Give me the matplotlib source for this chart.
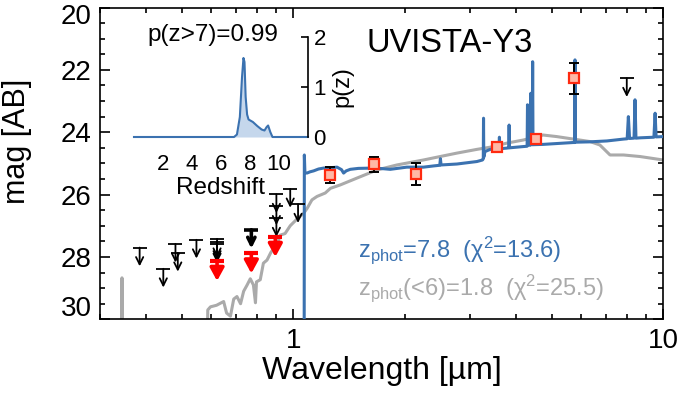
import matplotlib
matplotlib.use("Agg")
import matplotlib.pyplot as plt
from matplotlib.ticker import FixedLocator, FixedFormatter, NullFormatter

plt.rcParams['font.family'] = ['Liberation Sans', 'DejaVu Sans']
plt.rcParams['mathtext.fontset'] = 'custom'
plt.rcParams['mathtext.rm'] = 'Liberation Sans'
plt.rcParams['mathtext.it'] = 'Liberation Sans:italic'

# -----------------------------
# Data
# -----------------------------
# best fit (z=7.8) model spectrum, wavelength [um] / mag
blue_wave = [1.0700, 1.0712, 1.075, 1.089, 1.11, 1.135, 1.17, 1.208, 1.26, 1.313, 1.35,
             1.368, 1.39, 1.426, 1.5, 1.648, 1.75, 1.829, 2.028, 2.25, 2.40, 2.49, 2.50,
             2.51, 2.77, 3.138, 3.25, 3.265, 3.27, 3.275, 3.30, 3.41, 3.60, 3.61, 3.62,
             3.78, 3.825, 3.835, 3.845, 4.19, 4.29, 4.30, 4.32, 4.37, 4.39, 4.41, 4.43,
             4.44, 4.45, 4.74, 5.72, 5.77, 5.78, 5.79, 6.3, 7.05, 7.82, 8.0, 8.06, 8.12,
             8.35, 8.40, 8.45, 8.67, 9.45, 9.52, 9.58, 10.0]
blue_mag = [31.0, 24.73, 25.30, 25.31, 25.27, 25.24, 25.18, 25.15, 25.14, 25.12, 25.20,
            25.31, 25.24, 25.19, 25.16, 25.15, 25.17, 25.19, 25.12, 25.12, 25.08, 25.06, 24.85,
            25.05, 25.02, 24.94, 24.89, 24.85, 23.55, 24.80, 24.62, 24.55, 24.53, 24.16, 24.53,
            24.51, 24.50, 23.77, 24.50, 24.46, 24.45, 23.12, 24.40, 24.42, 22.75, 24.40, 24.40,
            21.74, 24.40, 24.39, 24.33, 24.33, 21.68, 24.32, 24.31, 24.28, 24.22, 24.21, 23.50, 24.20,
            24.19, 22.96, 24.19, 24.18, 24.16, 23.39, 24.15, 24.14]

# low-z (z=1.8) solution
gray_wave = [0.343, 0.344, 0.345, 0.585, 0.587, 0.597, 0.62, 0.648, 0.66, 0.676, 0.69, 0.704,
             0.72, 0.734, 0.75, 0.765, 0.78, 0.79, 0.795, 0.814, 0.83, 0.849, 0.87, 0.904,
             0.922, 0.95, 0.981, 1.02, 1.066, 1.089, 1.123, 1.159, 1.22, 1.26, 1.34, 1.487,
             1.684, 1.906, 2.25, 2.495, 2.77, 3.138, 3.41, 3.78, 4.19, 4.74, 5.16, 5.72,
             6.35, 6.75, 7.19, 7.82, 8.67, 10.0]
gray_mag = [31.0, 28.67, 31.0, 31.0, 29.70, 29.60, 29.55, 29.43, 29.80, 29.90, 29.35, 29.27,
            29.50, 29.10, 28.90, 28.70, 28.90, 29.47, 28.80, 28.73, 28.20, 28.10, 27.85, 27.60,
            27.30, 27.25, 27.00, 26.80, 26.60, 26.45, 26.17, 26.06, 25.95, 25.80, 25.69, 25.47,
            25.21, 25.05, 24.89, 24.78, 24.67, 24.55, 24.48, 24.35, 24.25, 24.09, 24.14, 24.22,
            24.30, 24.41, 24.73, 24.73, 24.78, 24.89]

# detections
det_wave = [1.254, 1.648, 2.142, 3.565, 4.52, 5.75]
det_mag = [25.37, 25.02, 25.34, 24.48, 24.22, 22.27]
det_err = [0.26, 0.24, 0.35, 0.0, 0.0, 0.50]

# upper limits (black)
lim_wave = [0.384, 0.445, 0.480, 0.487, 0.547, 0.622, 0.622, 0.622, 0.770, 0.90, 0.90, 0.90,
            0.981, 1.03, 7.98]
lim_mag = [27.70, 28.38, 27.58, 27.87, 27.45, 27.42, 27.51, 27.59, 27.13, 25.99, 26.38, 26.76,
           25.82, 26.31, 22.27]
lim_bold = [False, False, False, False, False, False, False, False, True, False, False, False,
            False, False, False]

# upper limits (red)
red_wave = [0.622, 0.770, 0.894]
red_mag = [28.12, 27.88, 27.35]

# redshift probability distribution
pz_z = [0, 6.9, 7.1, 7.3, 7.45, 7.55, 7.62, 7.7, 7.8, 7.9, 8.2, 8.5, 8.8, 9.0, 9.15, 9.25,
        9.4, 9.55, 12]
pz_p = [0, 0, 0.05, 0.4, 1.2, 1.58, 1.5, 0.8, 0.45, 0.35, 0.3, 0.22, 0.15, 0.13, 0.2, 0.23,
        0.1, 0, 0]

mag_ticks = [20, 22, 24, 26, 28, 30]
mag_labels = ['', '22', '24', '26', '28', '']   # 20 and 30 are placed by hand (clamped like the original)

BLUE = "#3b72b0"
GRAY = "#aaaaaa"
W, H = 683, 403

# -----------------------------
# Main SED panel
# -----------------------------
fig = plt.figure(figsize=(W / 100, H / 100), dpi=100)
ax = fig.add_axes([100 / W, 1 - 319.3 / H, 563 / W, 311.8 / H])

ax.plot(gray_wave, gray_mag, color=GRAY, lw=2.2, zorder=2)
ax.plot(blue_wave, blue_mag, color=BLUE, lw=2.2, zorder=3)

ax.errorbar(det_wave, det_mag, yerr=det_err, fmt='none', ecolor='k', elinewidth=1.4,
            capsize=3.5, capthick=1.4, zorder=4)
ax.plot(det_wave, det_mag, 's', ms=7.5, mfc='#ffb8a6', mec='#ff2a10', mew=1.6, zorder=5)

for x, y, b in zip(lim_wave, lim_mag, lim_bold):
    lw = 2.6 if b else 1.3
    ax.plot([x], [y], marker='_', ms=10, mew=lw, color='k', zorder=6)
    ax.annotate('', xy=(x, y + 0.6), xytext=(x, y),
                arrowprops=dict(arrowstyle='->', color='k', lw=lw, shrinkA=0, shrinkB=0,
                                mutation_scale=13), zorder=6)

for x, y in zip(red_wave, red_mag):
    ax.plot([x], [y], marker='_', ms=10, mew=3, color='#ff0000', zorder=7)
    ax.annotate('', xy=(x, y + 0.65), xytext=(x, y),
                arrowprops=dict(arrowstyle='-|>,head_length=0.55,head_width=0.3',
                                color='#ff0000', lw=2.6, shrinkA=0, shrinkB=0,
                                mutation_scale=14), zorder=7)

ax.set_xscale('log')
ax.set_xlim(0.3, 10)
ax.set_ylim(30, 20)
ax.xaxis.set_major_locator(FixedLocator([1, 10]))
ax.xaxis.set_major_formatter(FixedFormatter(['1', '10']))
ax.xaxis.set_minor_locator(FixedLocator([0.3, 0.4, 0.5, 0.6, 0.7, 0.8, 0.9,
                                         2, 3, 4, 5, 6, 7, 8, 9]))
ax.xaxis.set_minor_formatter(NullFormatter())
ax.yaxis.set_major_locator(FixedLocator(mag_ticks))
ax.yaxis.set_major_formatter(FixedFormatter(mag_labels))
ax.yaxis.set_minor_locator(FixedLocator([20 + 0.5 * i for i in range(21)]))
ax.tick_params(which='both', direction='in', top=True, right=True, width=1.2, labelsize=20)
ax.tick_params(which='major', length=7, pad=6)
ax.tick_params(which='minor', length=3.5)
for s in ax.spines.values():
    s.set_linewidth(1.2)
fig.text(92 / W, 1 - 17 / H, '20', fontsize=20, ha='right', va='center')
fig.text(92 / W, 1 - 309 / H, '30', fontsize=20, ha='right', va='center')

ax.set_xlabel('Wavelength [µm]', fontsize=23, labelpad=2)
ax.set_ylabel('mag [AB]', fontsize=22)
ax.yaxis.set_label_coords(-0.12, 0.57)

fig.text(450 / W, 1 - 43 / H, 'UVISTA-Y3', fontsize=23.5, ha='center', va='center')
fig.text(358 / W, 1 - 250 / H, 'z$_{\\rm phot}$=7.8  (χ$^2$=13.6)', fontsize=17,
         color=BLUE, ha='left', va='center')
fig.text(358 / W, 1 - 288 / H, 'z$_{\\rm phot}$(<6)=1.8  (χ$^2$=25.5)', fontsize=17,
         color=GRAY, ha='left', va='center')

# -----------------------------
# Inset: p(z)
# -----------------------------
axin = fig.add_axes([134 / W, 1 - 137 / H, 174 / W, 100 / H])
axin.set_facecolor('none')
axin.fill_between(pz_z, pz_p, 0, color='#c5d7ec', lw=0)
axin.plot(pz_z, pz_p, color=BLUE, lw=1.5, clip_on=False)
axin.set_xlim(0, 12)
axin.set_ylim(0, 2)
for side in ['left', 'top', 'bottom']:
    axin.spines[side].set_visible(False)
axin.spines['right'].set_linewidth(1.2)
axin.yaxis.tick_right()
axin.yaxis.set_label_position('right')
axin.set_yticks([0, 1, 2])
axin.set_xticks([2, 4, 6, 8, 10])
axin.tick_params(axis='y', direction='in', length=5, width=1.2, labelsize=16, pad=4)
axin.tick_params(axis='x', length=0, labelsize=16, pad=12)
axin.set_xlabel('Redshift', fontsize=17.5, labelpad=2)
axin.set_ylabel('p(z)', fontsize=17, labelpad=4)
fig.text(213 / W, 1 - 35 / H, 'p(z>7)=0.99', fontsize=17.5, ha='center', va='center')

fig.savefig('out.png', dpi=100)
